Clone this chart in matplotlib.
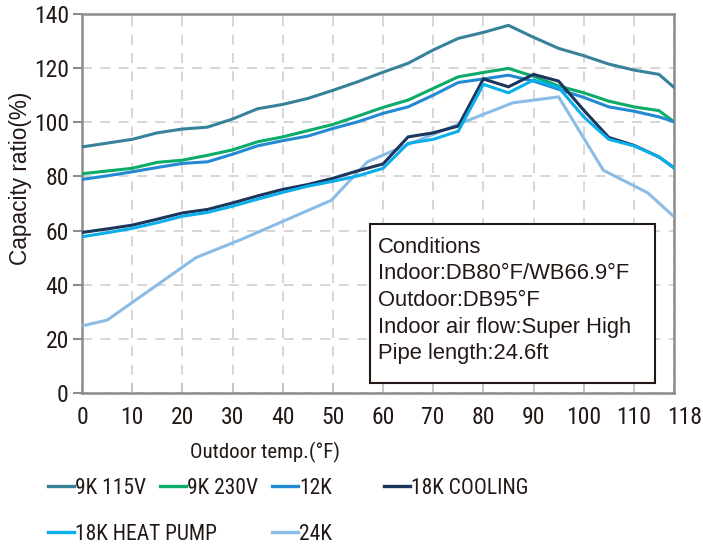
import matplotlib
matplotlib.use("Agg")
import matplotlib.pyplot as plt
from matplotlib import font_manager
from matplotlib.lines import Line2D
from matplotlib.patches import Rectangle
from matplotlib.transforms import ScaledTranslation

# ---------------- data ----------------
temps = [0, 5, 10, 15, 20, 25, 30, 35, 40, 45, 50, 55, 60, 65, 70, 75, 80, 85,
         90, 95, 100, 105, 110, 115, 118]
k9_115 = [90.9, 92.3, 93.7, 96.1, 97.5, 98.2, 101.2, 105.0, 106.6, 108.8, 111.8,
          115.0, 118.5, 121.8, 126.7, 131.0, 133.2, 135.8, 131.4, 127.3, 124.6,
          121.5, 119.3, 117.7, 112.9]
k9_230 = [81.0, 82.0, 83.0, 85.2, 86.0, 87.8, 89.8, 92.8, 94.6, 96.9, 99.2,
          102.3, 105.5, 108.2, 112.5, 116.8, 118.4, 119.9, 117.0, 113.4, 110.9,
          107.8, 105.7, 104.3, 100.2]
k12 = [78.9, 80.2, 81.7, 83.3, 84.8, 85.4, 88.2, 91.3, 93.2, 94.9, 97.7,
       100.2, 103.3, 105.7, 110.0, 114.7, 116.0, 117.4, 115.2, 112.2, 109.2,
       105.7, 104.1, 102.0, 100.2]
k18_cool = [59.3, 60.6, 62.0, 64.2, 66.5, 67.8, 70.2, 72.8, 75.2, 77.0, 79.3,
            82.1, 84.6, 94.6, 96.1, 98.6, 116.0, 113.1, 117.7, 115.2, 104.5,
            94.4, 91.5, 87.2, 83.2]
k18_hp = [57.7, 59.2, 60.8, 62.9, 65.3, 66.7, 69.0, 71.6, 74.1, 76.4, 78.2,
          80.2, 83.0, 92.2, 93.7, 96.7, 114.0, 110.9, 115.6, 112.9, 102.0,
          93.7, 91.3, 87.2, 83.2]
temps_24k = [0, 5, 22.7, 32.1, 49.7, 56.9, 64.7, 75, 85.9, 95, 103.9, 112.8, 118]
k24 = [24.8, 26.9, 50.0, 57.0, 71.2, 85.4, 91.6, 99.3, 107.2, 109.4, 82.3, 73.9, 65.1]

series_labels = ["9K 115V", "9K 230V", "12K", "18K COOLING", "18K HEAT PUMP", "24K"]
x_ticks = [0, 10, 20, 30, 40, 50, 60, 70, 80, 90, 100, 110, 118]
y_ticks = [0, 20, 40, 60, 80, 100, 120, 140]
conditions = ["Conditions", "Indoor:DB80°F/WB66.9°F", "Outdoor:DB95°F",
              "Indoor air flow:Super High", "Pipe length:24.6ft"]

# ---------------- style ----------------
colors = ["#37829a", "#0bab68", "#2389d2", "#1b355c", "#0aaeea", "#8bbce6"]
TXT = "#231815"
names = {f.name for f in font_manager.fontManager.ttflist}
narrow = "Liberation Sans"
for cand in ["Liberation Sans Narrow", "Roboto Condensed", "DejaVu Sans Condensed",
             "Open Sans Condensed"]:
    if cand in names:
        narrow = cand
        break
regular = "Liberation Sans" if "Liberation Sans" in names else "DejaVu Sans"

W, H = 703, 549
fig = plt.figure(figsize=(W / 100, H / 100), dpi=100)

def fx(px):
    return px / W

def fy(py):
    return 1 - py / H

ax = fig.add_axes([fx(82), fy(393), fx(674) - fx(82), fy(14) - fy(393)])
ax.set_xlim(0, 118)
ax.set_ylim(0, 140)

for s in ax.spines.values():
    s.set_color("#8c8c8c")
    s.set_linewidth(1.8)

ax.set_xticks(x_ticks)
ax.set_yticks(y_ticks)
ax.set_xticklabels([str(t) for t in x_ticks])
ax.set_yticklabels([str(t) for t in y_ticks])
ax.tick_params(axis="y", direction="out", length=6.5, width=1.5, color="#8c8c8c",
               pad=3, labelsize=17, labelcolor=TXT)
ax.tick_params(axis="x", direction="in", length=7, width=1.3, color="#c4c4c4",
               pad=9, labelsize=17, labelcolor=TXT)
for lab in ax.get_xticklabels() + ax.get_yticklabels():
    lab.set_fontfamily(narrow)
last = ax.get_xticklabels()[-1]
last.set_transform(last.get_transform() + ScaledTranslation(11 / 100, 0, fig.dpi_scale_trans))

ax.grid(True, color="#cfcfcf", linewidth=1.2, linestyle=(0, (6, 5)))
ax.set_axisbelow(True)

all_series = [(temps, k9_115), (temps, k9_230), (temps, k12), (temps, k18_cool),
              (temps, k18_hp), (temps_24k, k24)]
draw_order = [5, 0, 1, 2, 3, 4]
for i in draw_order:
    xs, ys = all_series[i]
    ax.plot(xs, ys, color=colors[i], linewidth=2.2, solid_joinstyle="miter", zorder=3)

# conditions box
box = Rectangle((fx(370), fy(383)), fx(655) - fx(370), fy(224) - fy(383),
                transform=fig.transFigure, facecolor="white", edgecolor=TXT,
                linewidth=1.5, zorder=5)
fig.add_artist(box)
for k, line in enumerate(conditions):
    fig.text(fx(378), fy(252.7 + k * 26.7), line, fontsize=15.8, family=regular,
             color=TXT, va="baseline", ha="left", zorder=6)

# axis labels
fig.text(fx(264.7), fy(458.3), "Outdoor temp.(°F)", fontsize=15, family=narrow,
         color=TXT, ha="center", va="baseline")
fig.text(fx(26.7), fy(178), "Capacity ratio(%)", fontsize=16.3, family=regular,
         color=TXT, rotation=90, rotation_mode="anchor", ha="center", va="baseline")

# legend (manual layout)
leg_pos = [(48, 485.7), (160, 485.7), (272, 485.7), (384, 485.7), (48, 531.7), (272, 531.7)]
for i, lab in enumerate(series_labels):
    x0, y0 = leg_pos[i]
    fig.add_artist(Line2D([fx(x0), fx(x0 + 26)], [fy(y0), fy(y0)], color=colors[i],
                          linewidth=2.4, transform=fig.transFigure))
    fig.text(fx(x0 + 27), fy(y0 + 8), lab, fontsize=15.5, family=narrow, color=TXT,
             ha="left", va="baseline")

fig.savefig("out.png", dpi=100)
